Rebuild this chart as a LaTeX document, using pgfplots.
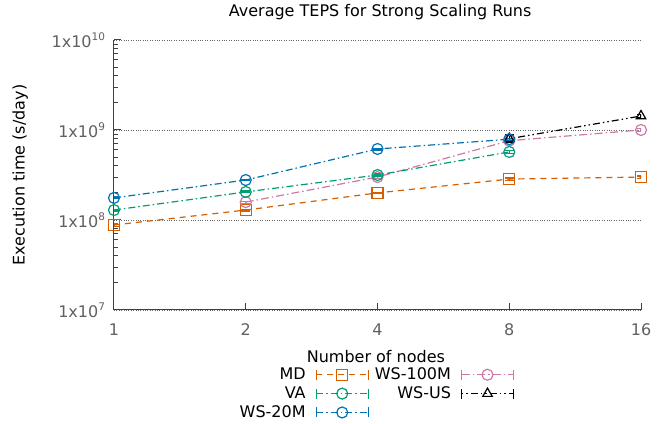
\documentclass[border=0pt]{standalone}
\usepackage{pgfplots}
\pgfplotsset{compat=1.18}
\usepackage{fontspec}
\setmainfont{DejaVu Sans}
\definecolor{cMD}{HTML}{D55E00}
\definecolor{cVA}{HTML}{009E73}
\definecolor{cWS}{HTML}{0072B2}
\definecolor{cWH}{HTML}{CC79A7}
\definecolor{tickgray}{HTML}{606060}
\newcommand{\sx}[1]{\raisebox{7bp}{\fontsize{10.5bp}{11bp}\selectfont #1}}
\begin{document}
\begin{tikzpicture}
\path (-114bp,-114bp) rectangle (558bp,310bp);
\begin{axis}[
  scale only axis, width=527bp, height=270bp,
  font=\fontsize{16bp}{19bp}\selectfont,
  xmode=log, log basis x=2, xmin=1, xmax=16,
  xtick={1,2,4,8,16}, xticklabels={1,2,4,8,16},
  ymode=log, ymin=1e7, ymax=1e10,
  ytick={1e7,1e8,1e9,1e10},
  yticklabels={1x10\sx{7},1x10\sx{8},1x10\sx{9},1x10\sx{10}},
  minor ytick={2e7,3e7,4e7,5e7,6e7,7e7,8e7,9e7,2e8,3e8,4e8,5e8,6e8,7e8,8e8,9e8,2e9,3e9,4e9,5e9,6e9,7e9,8e9,9e9},
  /pgf/number format/assume math mode=true,
  tick label style={color=tickgray, font=\fontsize{16bp}{19bp}\selectfont},
  xticklabel style={yshift=-10bp},
  yticklabel style={xshift=-5.5bp},
  axis x line*=bottom, axis y line*=left,
  axis line style={-, color=black!75, line width=1bp},
  tick style={color=black!75, line width=1bp},
  major tick length=7bp, minor tick length=4bp,
  tick align=inside,
  ymajorgrids, grid style={dotted, color=black!60, line width=0.9bp},
  every axis title shift=0pt,
  title={Average TEPS for Strong Scaling Runs},
  title style={at={(axis description cs:0.505,1.104)}, anchor=center},
  xlabel={Number of nodes},
  xlabel style={at={(axis description cs:0.497,-0.172)}, anchor=center},
  ylabel={Execution time (s/day)},
  ylabel style={at={(axis description cs:-0.178,0.5)}, anchor=center},
  legend columns=2,
  legend plot pos=right,
  legend cell align=right,
  legend style={draw=none, fill=none, at={(axis description cs:0.497,-0.207)}, anchor=north,
    font=\fontsize{16bp}{19bp}\selectfont,
    row sep=1.5bp, inner sep=0bp,
    /tikz/every even column/.append style={column sep=4bp},
    /tikz/every odd column/.append style={column sep=8bp}},
  legend image code/.code={
    \draw[#1, mark=none] (0bp,0bp) -- (52bp,0bp);
    \draw[#1, solid, mark=none] (0bp,-5bp) -- (0bp,5bp) (52bp,-5bp) -- (52bp,5bp);
    \draw[#1, only marks] plot coordinates {(26bp,0bp)};
  },
  every axis plot/.append style={line width=1.2bp, mark size=5.5bp, mark options={solid, line width=1.2bp}},
  error bars/y dir=both, error bars/y explicit,
  error bars/error bar style={solid, line width=1.1bp},
  error bars/error mark options={rotate=90, mark size=4.5bp, solid, line width=1.1bp},
]
\addplot[color=cMD, dash pattern=on 6bp off 5bp, mark=square] coordinates {
  (1,8.8e7) +- (0,3e6)
  (2,1.29e8) +- (0,3e6)
  (4,2.0e8) +- (0,4e6)
  (8,2.85e8) +- (0,8e6)
  (16,3.0e8) +- (0,8e6)
};
\addlegendentry{MD}
\addplot[color=cWH, dash pattern=on 8bp off 3bp on 1.5bp off 3bp, mark=o] coordinates {
  (2,1.58e8) +- (0,4e6)
  (4,3.0e8) +- (0,8e6)
  (8,7.6e8) +- (0,2e7)
  (16,1.0e9) +- (0,3e7)
};
\addlegendentry{WS-100M}
\addplot[color=cVA, dash pattern=on 7bp off 3bp on 1.5bp off 3bp, mark=o] coordinates {
  (1,1.29e8) +- (0,3e6)
  (2,2.05e8) +- (0,5e6)
  (4,3.16e8) +- (0,8e6)
  (8,5.7e8) +- (0,2e7)
};
\addlegendentry{VA}
\addplot[color=black, dash pattern=on 1.5bp off 3bp on 1.5bp off 3bp on 7bp off 3bp, mark=triangle] coordinates {
  (8,8.0e8) +- (0,8e7)
  (16,1.43e9) +- (0,4e7)
};
\addlegendentry{WS-US}
\addplot[color=cWS, dash pattern=on 7bp off 3bp on 1.5bp off 3bp, mark=o] coordinates {
  (1,1.76e8) +- (0,4e6)
  (2,2.78e8) +- (0,6e6)
  (4,6.15e8) +- (0,1.5e7)
  (8,7.9e8) +- (0,2e7)
};
\addlegendentry{WS-20M}
\end{axis}
\end{tikzpicture}
\end{document}
